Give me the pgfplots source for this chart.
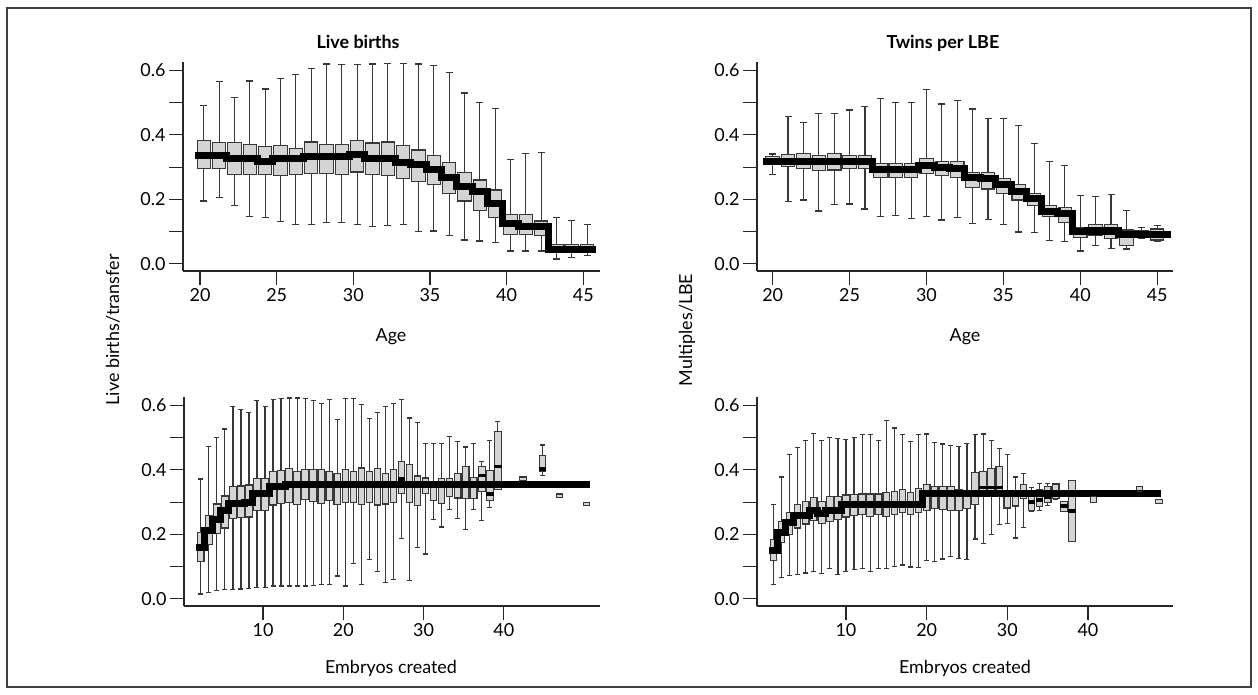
\documentclass[border=0pt]{standalone}
\usepackage{fontspec}
\setmainfont{Lato}
\usepackage{pgfplots}
\usepackage{pgfplotstable}
\pgfplotsset{compat=1.18}
\definecolor{boxfill}{HTML}{D4D4D4}
\definecolor{boxedge}{HTML}{383838}

% columns: x  lower whisker  lower quartile  median  upper quartile  upper whisker
\pgfplotstableread{
x lw q1 md q3 uw
20.25 0.195 0.295 0.335 0.382 0.491
21.25 0.207 0.297 0.335 0.376 0.565
22.25 0.180 0.278 0.328 0.376 0.516
23.25 0.147 0.278 0.328 0.371 0.567
24.25 0.144 0.278 0.319 0.364 0.542
25.25 0.131 0.275 0.328 0.367 0.575
26.25 0.123 0.278 0.328 0.358 0.588
27.25 0.123 0.279 0.333 0.378 0.606
28.25 0.129 0.279 0.333 0.370 0.620
29.25 0.129 0.276 0.333 0.370 0.618
30.25 0.123 0.285 0.340 0.382 0.619
31.25 0.116 0.278 0.328 0.375 0.620
32.25 0.120 0.274 0.328 0.378 0.621
33.25 0.122 0.266 0.315 0.367 0.621
34.25 0.100 0.255 0.307 0.353 0.620
35.25 0.102 0.246 0.293 0.337 0.616
36.25 0.089 0.217 0.269 0.314 0.593
37.25 0.074 0.195 0.240 0.284 0.530
38.25 0.071 0.165 0.224 0.260 0.501
39.25 0.066 0.144 0.188 0.229 0.483
40.25 0.040 0.090 0.124 0.154 0.323
41.25 0.040 0.090 0.116 0.154 0.342
42.25 0.040 0.087 0.116 0.133 0.346
43.25 0.015 0.035 0.046 0.059 0.144
44.25 0.020 0.035 0.046 0.059 0.134
45.25 0.025 0.038 0.046 0.061 0.123
}\tA

\pgfplotstableread{
x lw q1 md q3 uw
20 0.276 0.307 0.319 0.334 0.341
21 0.193 0.302 0.319 0.338 0.457
22 0.198 0.295 0.319 0.343 0.438
23 0.164 0.290 0.319 0.335 0.467
24 0.184 0.291 0.319 0.343 0.467
25 0.186 0.295 0.319 0.335 0.477
26 0.170 0.295 0.319 0.335 0.488
27 0.147 0.268 0.294 0.312 0.512
28 0.150 0.268 0.294 0.312 0.501
29 0.140 0.268 0.294 0.312 0.501
30 0.147 0.279 0.304 0.327 0.540
31 0.136 0.273 0.300 0.317 0.496
32 0.144 0.269 0.297 0.317 0.506
33 0.126 0.238 0.269 0.283 0.480
34 0.138 0.232 0.266 0.283 0.451
35 0.121 0.218 0.245 0.264 0.451
36 0.099 0.198 0.224 0.245 0.428
37 0.097 0.181 0.204 0.219 0.373
38 0.072 0.147 0.162 0.181 0.318
39 0.069 0.128 0.155 0.174 0.305
40 0.040 0.082 0.100 0.113 0.211
41 0.056 0.088 0.102 0.123 0.209
42 0.047 0.080 0.102 0.123 0.214
43 0.046 0.057 0.090 0.105 0.166
44 0.078 0.085 0.092 0.102 0.113
45 0.069 0.074 0.092 0.108 0.119
}\tB

\pgfplotstableread{
x lw q1 md q3 uw
2.25 0.015 0.115 0.160 0.207 0.372
3.25 0.020 0.168 0.212 0.259 0.472
4.25 0.025 0.202 0.247 0.294 0.500
5.25 0.030 0.220 0.273 0.319 0.527
6.25 0.030 0.250 0.296 0.348 0.597
7.25 0.031 0.252 0.296 0.350 0.588
8.25 0.032 0.254 0.298 0.353 0.579
9.25 0.035 0.275 0.328 0.372 0.616
10.25 0.035 0.273 0.328 0.372 0.597
11.25 0.040 0.291 0.349 0.394 0.619
12.25 0.040 0.296 0.349 0.398 0.621
13.25 0.040 0.298 0.355 0.403 0.623
14.25 0.040 0.293 0.355 0.396 0.623
15.25 0.040 0.307 0.355 0.401 0.621
16.25 0.042 0.301 0.355 0.401 0.614
17.25 0.045 0.296 0.355 0.401 0.607
18.25 0.045 0.305 0.355 0.396 0.619
19.25 0.071 0.293 0.355 0.388 0.556
20.25 0.040 0.299 0.355 0.401 0.621
21.25 0.110 0.299 0.355 0.396 0.621
22.25 0.045 0.293 0.355 0.406 0.602
23.25 0.123 0.299 0.355 0.396 0.560
24.25 0.084 0.291 0.355 0.403 0.577
25.25 0.050 0.294 0.355 0.390 0.597
26.25 0.060 0.300 0.355 0.400 0.605
27.25 0.188 0.326 0.372 0.426 0.618
28.25 0.057 0.298 0.355 0.418 0.561
29.25 0.160 0.289 0.355 0.381 0.548
30.25 0.139 0.328 0.355 0.375 0.482
31.25 0.247 0.304 nan 0.362 0.482
32.25 0.223 0.296 nan 0.372 0.482
33.25 0.277 0.317 nan 0.372 0.503
34.25 0.250 0.313 nan 0.390 0.487
35.25 0.214 0.310 nan 0.411 0.471
36.25 0.277 0.310 nan 0.377 0.482
37.25 0.242 0.333 0.382 0.411 0.427
38.25 0.284 0.304 0.325 0.399 0.490
39.25 0.340 0.340 0.411 0.518 0.550
42.4 0.366 0.366 nan 0.378 0.378
44.8 0.383 0.394 0.403 0.445 0.477
46.9 0.315 0.315 nan 0.325 0.325
50.3 0.289 0.289 nan 0.299 0.299
}\tC

\pgfplotstableread{
x lw q1 md q3 uw
1 0.045 0.120 0.150 0.183 0.293
2 0.066 0.175 0.207 0.240 0.378
3 0.073 0.199 0.236 0.268 0.448
4 0.076 0.220 0.260 0.293 0.469
5 0.080 0.232 0.260 0.303 0.490
6 0.085 0.244 0.275 0.314 0.514
7 0.078 0.233 0.265 0.301 0.490
8 0.094 0.241 0.275 0.317 0.500
9 0.076 0.247 0.275 0.317 0.497
10 0.086 0.254 0.294 0.322 0.493
11 0.090 0.258 0.294 0.324 0.500
12 0.094 0.262 0.294 0.325 0.509
13 0.086 0.256 0.294 0.325 0.509
14 0.094 0.262 0.294 0.325 0.492
15 0.094 0.256 0.294 0.331 0.553
16 0.100 0.262 0.294 0.334 0.530
17 0.105 0.268 0.294 0.338 0.509
18 0.099 0.262 0.294 0.330 0.487
19 0.097 0.268 0.294 0.342 0.509
20 0.118 0.275 0.326 0.354 0.511
21 0.116 0.280 0.326 0.349 0.485
22 0.124 0.276 0.326 0.349 0.480
23 0.131 0.273 0.326 0.349 0.475
24 0.126 0.275 0.326 0.340 0.472
25 0.121 0.280 0.326 0.330 0.482
26 0.186 0.293 0.326 0.392 0.509
27 0.171 0.325 0.345 0.395 0.511
28 0.200 0.325 0.345 0.403 0.490
29 0.230 0.325 0.345 0.411 0.466
30 0.235 0.282 0.326 0.335 0.448
31 0.189 0.288 0.326 0.333 0.378
32 0.222 0.312 0.326 0.354 0.389
33 0.270 0.275 0.301 0.317 0.345
34 0.273 0.286 0.306 0.340 0.357
35 0.290 0.298 0.316 0.348 0.357
36 0.310 0.310 0.326 0.356 0.356
37 0.270 0.270 0.288 0.301 0.301
38 0.178 0.178 0.272 0.367 0.367
40.7 0.300 0.300 nan 0.317 0.317
46.4 0.333 0.333 nan 0.348 0.348
48.8 0.295 0.295 nan 0.309 0.309
}\tD

\pgfplotsset{
  panel/.style={
    scale only axis,
    axis x line*=bottom, axis y line*=left,
    axis line style={line width=1.1bp, black!85},
    tick align=outside,
    major tick length=14bp, minor tick length=14bp,
    every tick/.style={line width=1.1bp, black!85},
    every minor tick/.style={line width=1.1bp, black!85},
    ymin=-0.022, ymax=0.626,
    ytick={0,0.2,0.4,0.6}, minor ytick={0.1,0.3,0.5},
    yticklabel style={/pgf/number format/.cd, fixed, fixed zerofill, precision=1},
    /pgf/number format/assume math mode=true,
    ticklabel style={font=\fontsize{18}{18}\selectfont},
  },
  ebar/.style={draw=none, mark=none, error bars/.cd, y dir=plus, y explicit,
    error mark=none, error bar style={#1}},
  stepline/.style={const plot, black, line width=7bp, line join=miter, line cap=butt},
}
% #1 table, #2 box width, #3 inner width, #4 cap half width, #5 median half width
\newcommand{\drawboxes}[5]{%
  \addplot[ebar={line width=1.2bp, draw=boxedge}]
    table[x=x, y=lw, y error plus expr=\thisrow{uw}-\thisrow{lw}] {#1};
  \addplot[only marks, mark=-, mark size=#4, mark options={line width=1.2bp, draw=boxedge}]
    table[x=x, y=lw] {#1};
  \addplot[only marks, mark=-, mark size=#4, mark options={line width=1.2bp, draw=boxedge}]
    table[x=x, y=uw] {#1};
  \addplot[ebar={line width=#2, draw=boxedge, line cap=butt}]
    table[x=x, y expr=\thisrow{q1}-0.0018, y error plus expr=\thisrow{q3}-\thisrow{q1}+0.0036] {#1};
  \addplot[ebar={line width=#3, draw=boxfill, line cap=butt}]
    table[x=x, y expr=\thisrow{q1}+0.0018, y error plus expr=\thisrow{q3}-\thisrow{q1}-0.0036] {#1};
  \addplot[only marks, mark=-, mark size=#5, mark options={line width=3.5bp, draw=black}]
    table[x=x, y=md] {#1};
}
\begin{document}
\begin{tikzpicture}
\useasboundingbox (0,0) rectangle (1258bp,695bp);
\draw[line width=1.2bp, black!75] (7bp,687bp) rectangle (1251bp,8bp);
% ---------------- Panel 1: Live births vs Age
\begin{axis}[panel, at={(183bp,424bp)}, anchor=south west, width=417bp, height=209bp,
  xmin=18.89, xmax=46.09, xtick={20,25,...,45}]
\drawboxes{\tA}{14.6bp}{12.4bp}{3.5bp}{7.3bp}
\addplot[stepline] coordinates {(19.65,0.335) (21.75,0.328) (23.75,0.319) (24.75,0.328) (26.75,0.333) (29.75,0.340) (30.75,0.328) (32.75,0.315) (33.75,0.307) (34.75,0.293) (35.75,0.269) (36.75,0.240) (37.75,0.224) (38.75,0.188) (39.75,0.124) (40.75,0.116) (42.75,0.046) (45.85,0.046)};
\end{axis}
% ---------------- Panel 2: Twins per LBE vs Age
\begin{axis}[panel, at={(757bp,424bp)}, anchor=south west, width=416bp, height=209bp,
  xmin=18.98, xmax=46.03, xtick={20,25,...,45}]
\drawboxes{\tB}{14.6bp}{12.4bp}{3.5bp}{7.3bp}
\addplot[stepline] coordinates {(19.4,0.319) (26.5,0.294) (29.5,0.304) (30.5,0.300) (31.5,0.297) (32.5,0.269) (33.5,0.266) (34.5,0.245) (35.5,0.224) (36.5,0.204) (37.5,0.162) (38.5,0.155) (39.5,0.100) (40.5,0.102) (42.5,0.090) (43.5,0.092) (45.9,0.092)};
\end{axis}
% ---------------- Panel 3: Live births vs Embryos created
\begin{axis}[panel, at={(184bp,89bp)}, anchor=south west, width=416bp, height=209bp,
  xmin=0.16, xmax=51.97, xtick={10,20,30,40}]
\drawboxes{\tC}{7.6bp}{5.4bp}{2.5bp}{3.8bp}
\addplot[stepline] coordinates {(1.7,0.160) (2.75,0.212) (3.75,0.247) (4.75,0.273) (5.75,0.296) (7.75,0.298) (8.75,0.328) (10.75,0.349) (12.75,0.355) (50.75,0.355)};
\end{axis}
% ---------------- Panel 4: Twins per LBE vs Embryos created
\begin{axis}[panel, at={(757bp,89bp)}, anchor=south west, width=416bp, height=209bp,
  xmin=-1.03, xmax=50.54, xtick={10,20,30,40}]
\drawboxes{\tD}{7.7bp}{5.5bp}{2.5bp}{3.8bp}
\addplot[stepline] coordinates {(0.45,0.150) (1.5,0.207) (2.5,0.236) (3.5,0.260) (5.5,0.275) (6.5,0.265) (7.5,0.275) (9.5,0.294) (19.5,0.326) (49.1,0.326)};
\end{axis}
% ---------------- Texts
\node[font=\bfseries\fontsize{18}{18}\selectfont, anchor=base west] at (313bp,646bp) {Live births};
\node[font=\bfseries\fontsize{18}{18}\selectfont, anchor=base west] at (883bp,646bp) {Twins per LBE};
\node[font=\fontsize{18}{18}\selectfont] at (391bp,358bp) {Age};
\node[font=\fontsize{18}{18}\selectfont] at (965bp,358bp) {Age};
\node[font=\fontsize{18}{18}\selectfont] at (391bp,27bp) {Embryos created};
\node[font=\fontsize{18}{18}\selectfont] at (965bp,27bp) {Embryos created};
\node[font=\fontsize{18}{18}\selectfont, rotate=90] at (113bp,365bp) {Live births/transfer};
\node[font=\fontsize{18}{18}\selectfont, rotate=90] at (687bp,365bp) {Multiples/LBE};
\end{tikzpicture}
\end{document}
